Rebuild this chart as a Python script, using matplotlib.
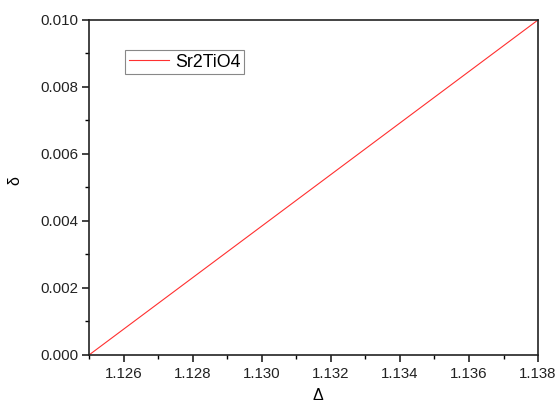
import numpy as np
import matplotlib
matplotlib.use("Agg")
import matplotlib.pyplot as plt
from matplotlib.ticker import MultipleLocator

# datos de la curva
delta_cap = [1.125, 1.138]
delta_min = [0.000, 0.010]
etiqueta = "Sr2TiO4"

plt.rcParams['font.family'] = ['Liberation Sans', 'DejaVu Sans']

fig = plt.figure(figsize=(5.57, 4.07), dpi=100)
ax = fig.add_axes([0.160, 0.128, 0.806, 0.823])

ax.plot(delta_cap, delta_min, color='#ff3030', linewidth=0.8, label=etiqueta)

ax.set_xlim(1.125, 1.138)
ax.set_ylim(0.0, 0.010)
ax.xaxis.set_major_locator(MultipleLocator(0.002))
ax.xaxis.set_minor_locator(MultipleLocator(0.001))
ax.yaxis.set_major_locator(MultipleLocator(0.002))
ax.yaxis.set_minor_locator(MultipleLocator(0.001))
ax.xaxis.set_major_formatter(plt.FormatStrFormatter('%.3f'))
ax.yaxis.set_major_formatter(plt.FormatStrFormatter('%.3f'))

ax.tick_params(which='major', direction='out', length=5, width=1.2,
               labelsize=10.8, colors='#222222', pad=3)
ax.tick_params(which='minor', direction='out', length=3, width=1.0)
ax.tick_params(axis='x', which='major', pad=4)
for s in ax.spines.values():
    s.set_linewidth(1.2)
    s.set_color('#222222')

ax.set_xlabel("Δ", fontsize=11.5, va='center')
ax.set_ylabel("δ", fontsize=11.5, va='center')
ax.xaxis.set_label_coords(0.51, -0.12)
ax.yaxis.set_label_coords(-0.165, 0.52)

leg = ax.legend(loc='upper left', bbox_to_anchor=(0.080, 0.910), fontsize=12.8,
                fancybox=False, framealpha=1, edgecolor='#888888',
                handlelength=2.3, borderpad=0.2, handletextpad=0.3,
                borderaxespad=0)
leg.get_frame().set_linewidth(0.8)

fig.savefig("out.png", dpi=100)
